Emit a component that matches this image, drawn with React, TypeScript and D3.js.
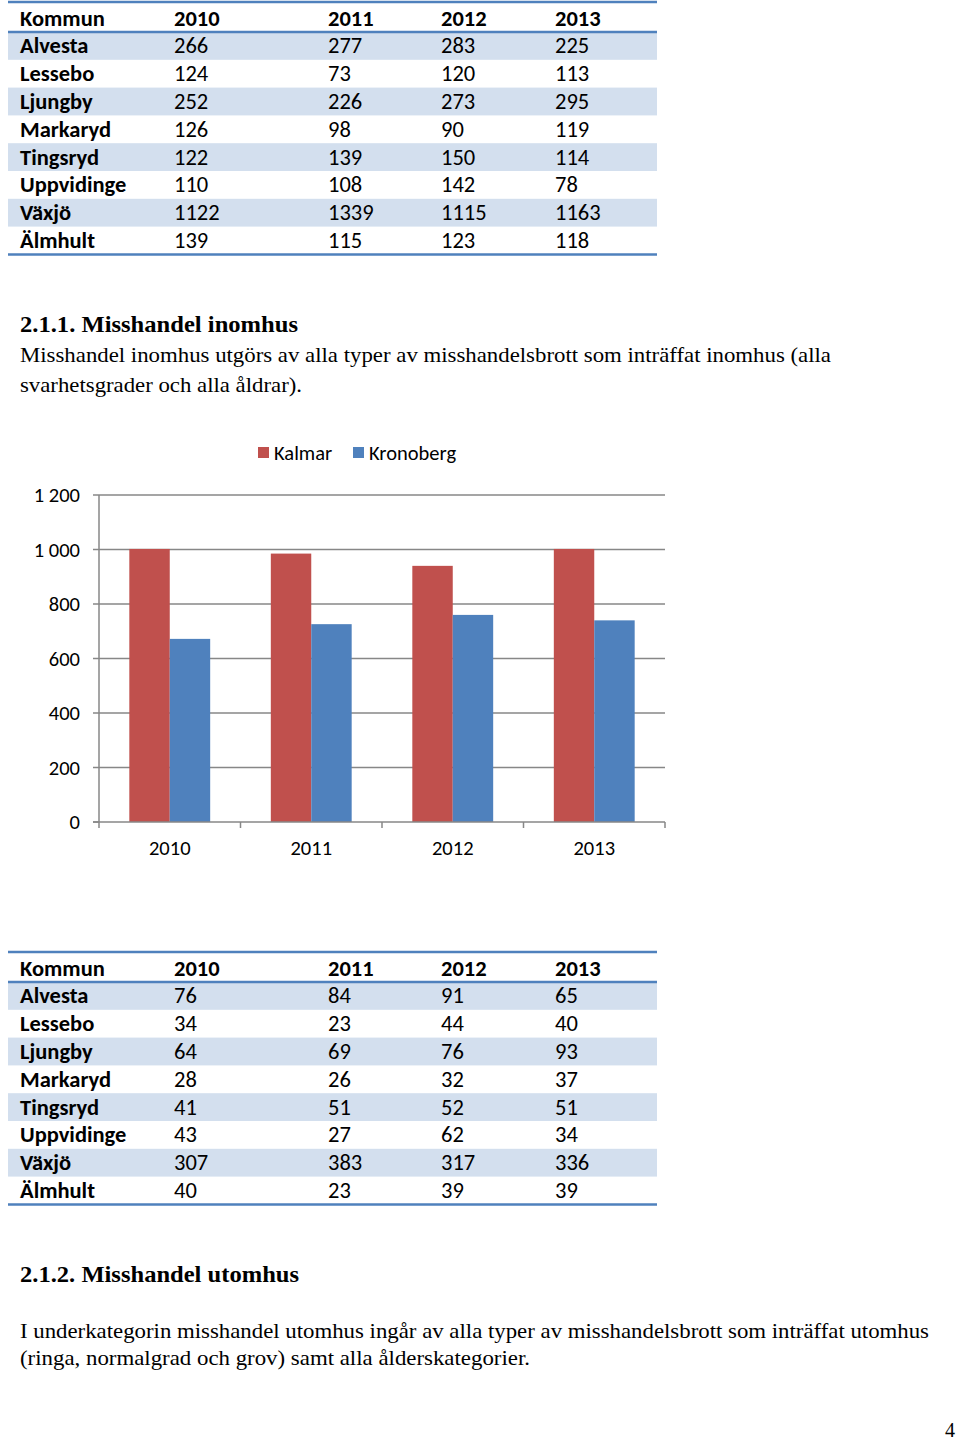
import React from "react";
import * as d3 from "d3";

const kommuner = ["Alvesta", "Lessebo", "Ljungby", "Markaryd", "Tingsryd", "Uppvidinge", "Växjö", "Älmhult"];
const tableYears = ["2010", "2011", "2012", "2013"];

// Table 1 (before 2.1.1)
const t1_2010 = [266, 124, 252, 126, 122, 110, 1122, 139];
const t1_2011 = [277, 73, 226, 98, 139, 108, 1339, 115];
const t1_2012 = [283, 120, 273, 90, 150, 142, 1115, 123];
const t1_2013 = [225, 113, 295, 119, 114, 78, 1163, 118];

// Table 2 (after chart)
const t2_2010 = [76, 34, 64, 28, 41, 43, 307, 40];
const t2_2011 = [84, 23, 69, 26, 51, 27, 383, 23];
const t2_2012 = [91, 44, 76, 32, 52, 62, 317, 39];
const t2_2013 = [65, 40, 93, 37, 51, 34, 336, 39];

// Chart: Misshandel inomhus
const chartYears = ["2010", "2011", "2012", "2013"];
const seriesNames = ["Kalmar", "Kronoberg"];
const kalmar = [1002, 985, 940, 1002];
const kronoberg = [672, 726, 760, 740];
const yTicks = [0, 200, 400, 600, 800, 1000, 1200];

const SANS = "Carlito, Calibri, Lato, 'Open Sans', sans-serif";
const SERIF = "'Liberation Serif', 'Times New Roman', serif";
const BLUE = "#4F81BD";
const RED = "#C0504D";
const BAND = "#D3DFEE";
const TFS = 22.5;
const CFS = 20.5;

function DataTable({ top, cols }: { top: number; cols: number[][] }) {
  const colX = [20, 174, 328, 441, 555];
  const headerH = 30;
  const rowH = 27.8;
  const rowsTop = top + headerH;
  return (
    <g>
      {kommuner.map((k, i) =>
        i % 2 === 0 ? (
          <rect key={"b" + i} x={8} y={rowsTop + i * rowH} width={649} height={rowH} fill={BAND} />
        ) : null
      )}
      <line x1={8} x2={657} y1={top} y2={top} stroke={BLUE} strokeWidth={2.5} />
      <line x1={8} x2={657} y1={rowsTop} y2={rowsTop} stroke={BLUE} strokeWidth={2.5} />
      <line x1={8} x2={657} y1={rowsTop + 8 * rowH} y2={rowsTop + 8 * rowH} stroke={BLUE} strokeWidth={2.5} />
      <text x={colX[0]} y={top + 16} dominantBaseline="central" fontFamily={SANS} fontWeight="bold" fontSize={TFS} fill="#000">
        Kommun
      </text>
      {tableYears.map((yr, j) => (
        <text key={yr} x={colX[j + 1]} y={top + 16} dominantBaseline="central" fontFamily={SANS} fontWeight="bold" fontSize={TFS} fill="#000">
          {yr}
        </text>
      ))}
      {kommuner.map((k, i) => (
        <g key={k}>
          <text x={colX[0]} y={rowsTop + i * rowH + rowH / 2} dominantBaseline="central" fontFamily={SANS} fontWeight="bold" fontSize={TFS} fill="#000">
            {k}
          </text>
          {cols.map((c, j) => (
            <text key={j} x={colX[j + 1]} y={rowsTop + i * rowH + rowH / 2} dominantBaseline="central" fontFamily={SANS} fontSize={TFS} fill="#000">
              {c[i]}
            </text>
          ))}
        </g>
      ))}
    </g>
  );
}

function Chart() {
  const x0 = d3.scaleBand<string>().domain(chartYears).range([99, 665]).paddingInner(0).paddingOuter(0);
  const x1 = d3.scaleBand<string>().domain(seriesNames).range([0, x0.bandwidth()]).paddingInner(0).paddingOuter(0.75);
  const y = d3.scaleLinear().domain([0, 1200]).range([822, 495]);
  const fmt = (v: number) => d3.format(",")(v).replace(/,/g, " ");
  const data = [kalmar, kronoberg];
  const colors = [RED, BLUE];
  const boundaries = [...chartYears.map((c) => x0(c) as number), 665];
  return (
    <g>
      {yTicks.map((t) => (
        <g key={t}>
          {t > 0 && <line x1={99} x2={665} y1={y(t)} y2={y(t)} stroke="#878787" strokeWidth={1.5} />}
          <line x1={93} x2={99} y1={y(t)} y2={y(t)} stroke="#878787" strokeWidth={1.5} />
          <text x={80} y={y(t)} textAnchor="end" dominantBaseline="central" fontFamily={SANS} fontSize={CFS} fill="#000">
            {fmt(t)}
          </text>
        </g>
      ))}
      {chartYears.map((c, i) =>
        seriesNames.map((s, j) => (
          <rect
            key={c + s}
            x={(x0(c) as number) + (x1(s) as number)}
            y={y(data[j][i])}
            width={x1.bandwidth()}
            height={y(0) - y(data[j][i])}
            fill={colors[j]}
          />
        ))
      )}
      <line x1={99} x2={99} y1={495} y2={822} stroke="#878787" strokeWidth={1.5} />
      <line x1={93} x2={665} y1={822} y2={822} stroke="#878787" strokeWidth={1.5} />
      {boundaries.map((b, i) => (
        <line key={i} x1={b} x2={b} y1={822} y2={828} stroke="#878787" strokeWidth={1.5} />
      ))}
      {chartYears.map((c) => (
        <text key={c} x={(x0(c) as number) + x0.bandwidth() / 2} y={848} textAnchor="middle" dominantBaseline="central" fontFamily={SANS} fontSize={CFS} fill="#000">
          {c}
        </text>
      ))}
      {seriesNames.map((s, j) => {
        const lx = [258, 353][j];
        return (
          <g key={s}>
            <rect x={lx} y={447} width={11} height={11} fill={colors[j]} />
            <text x={lx + 16} y={453} dominantBaseline="central" fontFamily={SANS} fontSize={CFS} fill="#000">
              {s}
            </text>
          </g>
        );
      })}
    </g>
  );
}

export default function App() {
  return (
    <svg
      width={960}
      height={1442}
      style={{ position: "absolute", left: 0, top: 0, background: "#fff" }}
      xmlns="http://www.w3.org/2000/svg"
    >
      <rect x={0} y={0} width={960} height={1442} fill="#fff" />
      <DataTable top={2} cols={[t1_2010, t1_2011, t1_2012, t1_2013]} />
      <text x={20} y={332} fontFamily={SERIF} fontWeight="bold" fontSize={23} fill="#000" textLength={278} lengthAdjust="spacingAndGlyphs">
        2.1.1. Misshandel inomhus
      </text>
      <text x={20} y={362} fontFamily={SERIF} fontSize={22} fill="#000" textLength={811} lengthAdjust="spacingAndGlyphs">
        Misshandel inomhus utgörs av alla typer av misshandelsbrott som inträffat inomhus (alla
      </text>
      <text x={20} y={392} fontFamily={SERIF} fontSize={22} fill="#000" textLength={282} lengthAdjust="spacingAndGlyphs">
        svarhetsgrader och alla åldrar).
      </text>
      <Chart />
      <DataTable top={952} cols={[t2_2010, t2_2011, t2_2012, t2_2013]} />
      <text x={20} y={1282} fontFamily={SERIF} fontWeight="bold" fontSize={23} fill="#000" textLength={279} lengthAdjust="spacingAndGlyphs">
        2.1.2. Misshandel utomhus
      </text>
      <text x={20} y={1338} fontFamily={SERIF} fontSize={21.5} fill="#000" textLength={909} lengthAdjust="spacingAndGlyphs">
        I underkategorin misshandel utomhus ingår av alla typer av misshandelsbrott som inträffat utomhus
      </text>
      <text x={20} y={1365} fontFamily={SERIF} fontSize={21.5} fill="#000" textLength={510} lengthAdjust="spacingAndGlyphs">
        (ringa, normalgrad och grov) samt alla ålderskategorier.
      </text>
      <text x={945} y={1437} fontFamily={SERIF} fontSize={21} fill="#000" textLength={10} lengthAdjust="spacingAndGlyphs">
        4
      </text>
    </svg>
  );
}
